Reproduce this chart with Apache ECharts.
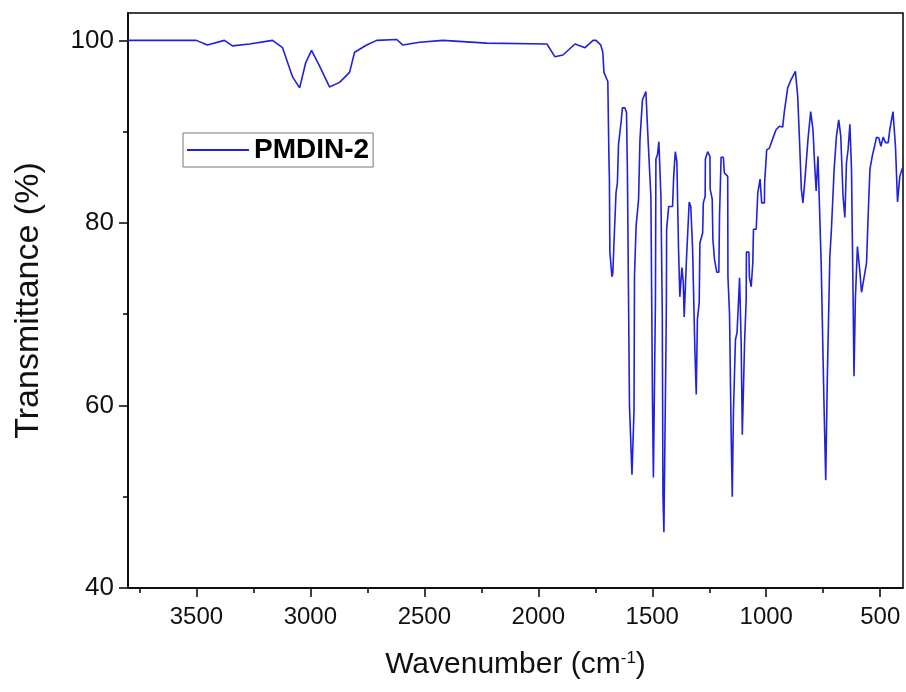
<!DOCTYPE html>
<html>
<head>
<meta charset="utf-8">
<script src="https://cdn.jsdelivr.net/npm/echarts@6/dist/echarts.min.js"></script>
<style>
  html, body { margin: 0; padding: 0; background: #fff; }
  #chart { width: 906px; height: 692px; }
</style>
</head>
<body>
<div id="chart"></div>
<script>
// IR spectrum: wavenumber (cm-1) and transmittance (%)
var wavenumber = [
  3803, 3500, 3452, 3377, 3342, 3267, 3166, 3122, 3078, 3047, 3021, 2995, 2960, 2916, 2872, 2828, 2806,
  2753, 2709, 2621, 2595, 2520, 2419, 2226, 1962, 1927, 1892, 1839, 1795, 1760, 1747, 1726, 1717, 1712,
  1695, 1690, 1688, 1686, 1677, 1673, 1668, 1659, 1653, 1648, 1637, 1631, 1620, 1613, 1609, 1600, 1589,
  1580, 1578, 1571, 1560, 1554, 1543, 1528, 1521, 1517, 1506, 1499, 1495, 1486, 1484, 1477, 1471, 1462,
  1456, 1453, 1449, 1440, 1438, 1437, 1428, 1411, 1406, 1399, 1392, 1385, 1379, 1370, 1364, 1360, 1350,
  1338, 1331, 1323, 1313, 1307, 1302, 1294, 1291, 1279, 1276, 1268, 1267, 1257, 1247, 1246, 1237, 1234,
  1227, 1217, 1208, 1205, 1198, 1188, 1184, 1169, 1168, 1161, 1154, 1149, 1144, 1135, 1128, 1117, 1110,
  1105, 1095, 1088, 1087, 1076, 1074, 1066, 1059, 1056, 1044, 1037, 1027, 1020, 1008, 1007, 998, 986,
  969, 957, 942, 928, 921, 906, 891, 872, 862, 853, 846, 839, 831, 817, 805, 795, 788, 781, 773, 769,
  759, 747, 739, 732, 721, 714, 702, 692, 682, 673, 663, 655, 648, 641, 633, 626, 619, 615, 609, 600,
  590, 582, 575, 560, 553, 545, 535, 523, 516, 506, 497, 487, 477, 465, 458, 444, 433, 424, 414, 404, 400
];
var transmittance = [
  100.0, 100.0, 99.5, 100.0, 99.4, 99.6, 100.0, 99.2, 96.0, 94.8, 97.5, 98.9, 97.2, 94.9, 95.4, 96.5, 98.7,
  99.5, 100.0, 100.1, 99.5, 99.8, 100.0, 99.7, 99.6, 98.2, 98.4, 99.6, 99.2, 100.0, 100.0, 99.5, 98.7, 96.5,
  95.5, 87.0, 84.8, 76.8, 74.1, 74.5, 77.8, 83.3, 84.4, 88.6, 91.0, 92.6, 92.6, 92.1, 85.5, 60.0, 52.4,
  59.5, 74.1, 79.6, 82.6, 89.1, 93.5, 94.4, 94.2, 88.4, 82.9, 60.3, 52.1, 71.6, 87.0, 87.5, 88.9, 82.9,
  70.0, 50.0, 46.1, 66.1, 71.6, 79.3, 81.8, 81.8, 85.1, 87.8, 86.7, 77.4, 71.9, 75.1, 73.5, 69.7, 76.0,
  82.3, 81.8, 77.1, 66.0, 61.2, 69.4, 71.3, 77.8, 78.9, 82.2, 82.9, 87.0, 87.8, 87.3, 83.7, 82.6, 78.2,
  76.0, 74.6, 74.6, 80.7, 87.2, 87.2, 85.5, 85.1, 74.1, 70.0, 57.0, 50.0, 59.2, 67.2, 68.0, 74.0, 66.9,
  56.8, 66.9, 71.6, 76.8, 76.8, 74.1, 73.0, 75.6, 79.3, 79.3, 83.3, 84.8, 82.2, 82.2, 84.4, 88.0, 88.2,
  89.4, 90.2, 90.6, 90.5, 92.1, 94.8, 95.7, 96.6, 93.9, 88.4, 83.7, 82.2, 84.5, 89.1, 92.2, 90.2, 86.6, 83.5, 87.3, 87.2,
  75.6, 60.6, 51.8, 63.0, 76.3, 79.3, 85.9, 89.5, 91.3, 89.5, 82.9, 80.6, 86.6, 88.0, 90.8, 85.9, 72.0, 63.2, 71.6, 77.4,
  74.9, 72.4, 72.5, 75.6, 80.7, 85.9, 87.3, 88.6, 89.4, 89.3, 88.4, 89.4, 88.8, 88.8, 90.2, 92.2, 88.4, 82.3, 85.1, 85.9, 86.0
];
var xMajorTicks = [500, 1000, 1500, 2000, 2500, 3000, 3500];
var xMinorTicks = [750, 1250, 1750, 2250, 2750, 3250, 3750];
var yMajorTicks = [40, 60, 80, 100];
var yMinorTicks = [50, 70, 90];

var spectrum = [];
for (var i = 0; i < wavenumber.length; i++) {
  spectrum.push([wavenumber[i], transmittance[i]]);
}

var font = '"Liberation Sans", Arial, sans-serif';
var plain = function (v) { return String(v); };
var chart = echarts.init(document.getElementById('chart'));

chart.setOption({
  animation: false,
  backgroundColor: '#fff',
  grid: {
    left: 128, right: 3, top: 13, bottom: 104,
    show: true, borderColor: '#000', borderWidth: 1.5
  },
  legend: {
    left: 183, top: 133,
    data: ['PMDIN-2'],
    icon: 'rect',
    itemWidth: 62, itemHeight: 2, itemGap: 9,
    borderColor: '#777', borderWidth: 1,
    padding: [3, 4, 3, 4],
    textStyle: { fontFamily: font, fontSize: 28, fontWeight: 'bold', color: '#000' }
  },
  xAxis: [{
    type: 'value', inverse: true, min: 400, max: 3800, position: 'bottom',
    splitLine: { show: false },
    axisLine: { show: true, onZero: false, lineStyle: { color: '#000', width: 1.5 } },
    axisTick: { show: true, length: 9, lineStyle: { color: '#000', width: 1.5 }, customValues: xMajorTicks },
    axisLabel: { customValues: xMajorTicks, formatter: plain, margin: 17, fontFamily: font, fontSize: 24, color: '#111' },
    name: '{t|Wavenumber (cm}{s|-1}{t|)}',
    nameLocation: 'middle', nameGap: 62,
    nameTextStyle: {
      rich: {
        t: { fontFamily: font, fontSize: 30, color: '#111' },
        s: { fontFamily: font, fontSize: 17, color: '#111', verticalAlign: 'top', padding: [0, 0, 12, 0] }
      }
    }
  }, {
    type: 'value', inverse: true, min: 400, max: 3800, position: 'bottom',
    splitLine: { show: false },
    axisLine: { show: false, onZero: false },
    axisTick: { show: true, length: 5, lineStyle: { color: '#000', width: 1.5 }, customValues: xMinorTicks },
    axisLabel: { show: false }
  }],
  yAxis: [{
    type: 'value', min: 40, max: 103, position: 'left',
    splitLine: { show: false },
    axisLine: { show: true, onZero: false, lineStyle: { color: '#000', width: 1.5 } },
    axisTick: { show: true, length: 9, lineStyle: { color: '#000', width: 1.5 }, customValues: yMajorTicks },
    axisLabel: { customValues: yMajorTicks, formatter: plain, margin: 14, fontFamily: font, fontSize: 26, color: '#111' },
    name: 'Transmittance (%)',
    nameLocation: 'middle', nameGap: 82,
    nameTextStyle: { fontFamily: font, fontSize: 34, color: '#111' }
  }, {
    type: 'value', min: 40, max: 103, position: 'left',
    splitLine: { show: false },
    axisLine: { show: false, onZero: false },
    axisTick: { show: true, length: 5, lineStyle: { color: '#000', width: 1.5 }, customValues: yMinorTicks },
    axisLabel: { show: false }
  }],
  series: [{
    name: 'PMDIN-2',
    type: 'line',
    data: spectrum,
    symbol: 'none',
    color: '#2020dd',
    lineStyle: { width: 1.6, color: '#2020dd' }
  }]
});
</script>
</body>
</html>
